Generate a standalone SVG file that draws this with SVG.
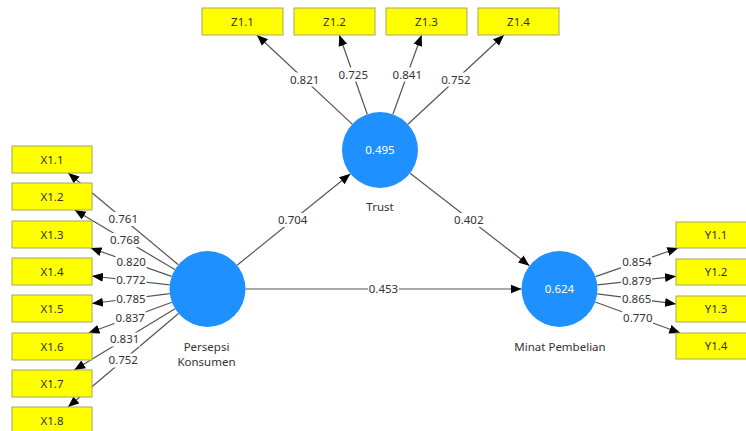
<svg xmlns="http://www.w3.org/2000/svg" width="746" height="431" viewBox="0 0 746 431">
<style>
text{font-family:"Noto Sans","Liberation Sans",sans-serif;font-size:11.5px;fill:#333;text-anchor:middle}
.box{fill:#ffff00;stroke:#a8a860;stroke-width:1}
.lv{fill:#1e90ff}
.lvt{fill:#fff}
.ln{stroke:#555;stroke-width:1.2;fill:none;marker-end:url(#ah)}
.lb{fill:#fff}
</style>
<defs>
<marker id="ah" markerUnits="userSpaceOnUse" markerWidth="11" markerHeight="10" viewBox="0 0 11 10" refX="11" refY="5" orient="auto">
<path d="M0,0.5 L11,5 L0,9.5 z" fill="#000"/>
</marker>
</defs>
<rect width="746" height="431" fill="#fff"/>
<g id="connectors">
<line class="ln" x1="178.3" y1="264.7" x2="68.2" y2="173"/>
<line class="ln" x1="174.8" y1="269.6" x2="74.7" y2="210"/>
<line class="ln" x1="171.6" y1="276.4" x2="90.6" y2="248"/>
<line class="ln" x1="169.7" y1="284.8" x2="92" y2="276"/>
<line class="ln" x1="169.8" y1="293.7" x2="92" y2="303.5"/>
<line class="ln" x1="171.9" y1="302.2" x2="88.5" y2="333"/>
<line class="ln" x1="175" y1="308.7" x2="74.2" y2="370"/>
<line class="ln" x1="178.5" y1="313.5" x2="68" y2="407"/>
<line class="ln" x1="352.2" y1="124.1" x2="256.9" y2="35"/>
<line class="ln" x1="367.3" y1="114.2" x2="339.3" y2="35"/>
<line class="ln" x1="392.9" y1="114.3" x2="421.6" y2="35"/>
<line class="ln" x1="407.9" y1="124.2" x2="504" y2="35"/>
<line class="ln" x1="595.4" y1="276.6" x2="678.3" y2="248"/>
<line class="ln" x1="597.3" y1="284.9" x2="676" y2="276.3"/>
<line class="ln" x1="597.2" y1="293.8" x2="676" y2="303.9"/>
<line class="ln" x1="595.2" y1="302" x2="680.3" y2="333"/>
<line class="ln" x1="237.1" y1="265.2" x2="350.4" y2="173.8"/>
<line class="ln" x1="410.1" y1="173.3" x2="529.4" y2="265.7"/>
<line class="ln" x1="245.5" y1="289" x2="521.5" y2="289"/>
<g id="labels">
<rect class="lb" x="108" y="212" width="31" height="14"/><text x="123.3" y="223">0.761</text>
<rect class="lb" x="109" y="233" width="31" height="14"/><text x="124.8" y="244">0.768</text>
<rect class="lb" x="115.5" y="255.5" width="31" height="14"/><text x="131.1" y="266.3">0.820</text>
<rect class="lb" x="115.5" y="273.5" width="31" height="14"/><text x="130.9" y="284.4">0.772</text>
<rect class="lb" x="115.5" y="291.5" width="31" height="14"/><text x="130.9" y="302.6">0.785</text>
<rect class="lb" x="114.5" y="310.5" width="31" height="14"/><text x="130.2" y="321.6">0.837</text>
<rect class="lb" x="109" y="332.5" width="31" height="14"/><text x="124.6" y="343.4">0.831</text>
<rect class="lb" x="107.5" y="353.5" width="31" height="14"/><text x="123.2" y="364.3">0.752</text>
<rect class="lb" x="289" y="72.5" width="31" height="14"/><text x="304.6" y="83.6">0.821</text>
<rect class="lb" x="337.5" y="67.5" width="31" height="14"/><text x="353.3" y="78.6">0.725</text>
<rect class="lb" x="391.5" y="67.5" width="31" height="14"/><text x="407.3" y="78.6">0.841</text>
<rect class="lb" x="440.5" y="72.5" width="31" height="14"/><text x="456" y="83.6">0.752</text>
<rect class="lb" x="621" y="255.5" width="31" height="14"/><text x="636.9" y="266.3">0.854</text>
<rect class="lb" x="621" y="273.5" width="31" height="14"/><text x="636.6" y="284.6">0.879</text>
<rect class="lb" x="621" y="291.5" width="31" height="14"/><text x="636.6" y="302.8">0.865</text>
<rect class="lb" x="622" y="310.5" width="31" height="14"/><text x="637.8" y="321.5">0.770</text>
<rect class="lb" x="277" y="213" width="31" height="14"/><text x="292.7" y="224">0.704</text>
<rect class="lb" x="453" y="213" width="31" height="14"/><text x="468.8" y="224">0.402</text>
<rect class="lb" x="368" y="282" width="31" height="14"/><text x="383.5" y="293">0.453</text>
</g>
</g>
<g id="X1.1"><rect class="box" x="12" y="146" width="80" height="27"/><text x="52" y="163.5">X1.1</text></g>
<g id="X1.2"><rect class="box" x="12" y="183" width="80" height="27"/><text x="52" y="200.5">X1.2</text></g>
<g id="X1.3"><rect class="box" x="12" y="221" width="80" height="27"/><text x="52" y="238.5">X1.3</text></g>
<g id="X1.4"><rect class="box" x="12" y="258" width="80" height="27"/><text x="52" y="275.5">X1.4</text></g>
<g id="X1.5"><rect class="box" x="12" y="295" width="80" height="27"/><text x="52" y="312.5">X1.5</text></g>
<g id="X1.6"><rect class="box" x="12" y="333" width="80" height="27"/><text x="52" y="350.5">X1.6</text></g>
<g id="X1.7"><rect class="box" x="12" y="370" width="80" height="27"/><text x="52" y="387.5">X1.7</text></g>
<g id="X1.8"><rect class="box" x="12" y="407" width="80" height="27"/><text x="52" y="424.5">X1.8</text></g>
<g id="Z1.1"><rect class="box" x="202" y="8" width="81" height="27"/><text x="242.5" y="25.5">Z1.1</text></g>
<g id="Z1.2"><rect class="box" x="294" y="8" width="81" height="27"/><text x="334.5" y="25.5">Z1.2</text></g>
<g id="Z1.3"><rect class="box" x="386" y="8" width="81" height="27"/><text x="426.5" y="25.5">Z1.3</text></g>
<g id="Z1.4"><rect class="box" x="478" y="8" width="81" height="27"/><text x="518.5" y="25.5">Z1.4</text></g>
<g id="Y1.1"><rect class="box" x="676" y="222" width="80" height="26"/><text x="716" y="239">Y1.1</text></g>
<g id="Y1.2"><rect class="box" x="676" y="259" width="80" height="26"/><text x="716" y="276">Y1.2</text></g>
<g id="Y1.3"><rect class="box" x="676" y="296" width="80" height="26"/><text x="716" y="313">Y1.3</text></g>
<g id="Y1.4"><rect class="box" x="676" y="333" width="80" height="26"/><text x="716" y="350">Y1.4</text></g>
<g id="Persepsi"><circle class="lv" cx="207.5" cy="289" r="38"/><text x="206.5" y="351">Persepsi</text><text x="206.5" y="366">Konsumen</text></g>
<g id="Trust"><circle class="lv" cx="380" cy="150" r="38"/><text class="lvt" x="380" y="154">0.495</text><text x="380" y="211">Trust</text></g>
<g id="Minat"><circle class="lv" cx="559.5" cy="289" r="38"/><text class="lvt" x="559.5" y="293">0.624</text><text x="560" y="351">Minat Pembelian</text></g>
</svg>
